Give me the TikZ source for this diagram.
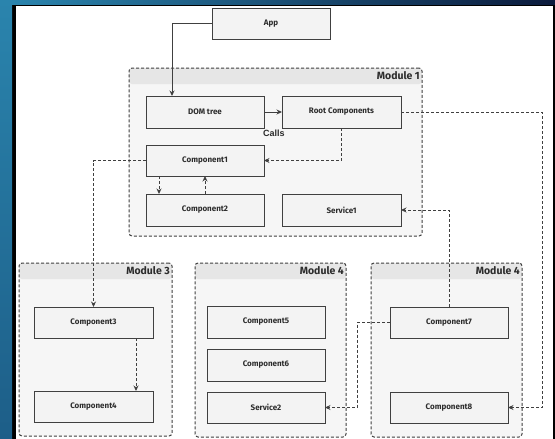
\documentclass[tikz,border=0pt]{standalone}
\usepackage{fontspec}
\setmainfont{Fira Sans}
\newfontfamily\callsfont{Liberation Sans}
\usetikzlibrary{arrows.meta}

\definecolor{edgeblue}{HTML}{2A84AD}
\definecolor{edgeblueDark}{HTML}{1D5E88}
\definecolor{edgenavy}{HTML}{0B1A3C}
\definecolor{modbg}{HTML}{F6F6F6}
\definecolor{modband}{HTML}{E6E6E6}
\definecolor{boxbg}{HTML}{F3F3F3}
\definecolor{ink}{HTML}{404040}
\definecolor{txt}{HTML}{2C2C2C}

\tikzset{
  box/.style={draw=ink, line width=1pt, fill=boxbg, minimum width=118pt,
    minimum height=31pt, inner sep=0pt, outer sep=0pt, text=txt,
    font=\bfseries\fontsize{8}{9}\selectfont},
  module/.style={draw=ink, line width=1pt, dash pattern=on 3pt off 2pt,
    rounded corners=3pt, fill=modbg, inner sep=0pt, outer sep=0pt,
    anchor=north west,
    path picture={\fill[modband] (path picture bounding box.north west)
      rectangle ([yshift=-16pt]path picture bounding box.north east);}},
  modlabel/.style={anchor=north east, inner sep=0pt, text=txt,
    font=\bfseries\fontsize{10.5}{12}\selectfont},
  link/.style={draw=ink, line width=0.9pt, dash pattern=on 3pt off 2pt,
    -{Stealth[length=5.5pt,width=5pt]}},
  solidlink/.style={draw=ink, line width=0.9pt, -{Stealth[length=5.5pt,width=5pt]}}
}

\begin{document}
\begin{tikzpicture}[x=1pt,y=-1pt]
\useasboundingbox (0,0) rectangle (555,439);

% window frame
\fill[black] (0,0) rectangle (555,439);
\shade[top color=edgeblue, bottom color=edgeblueDark] (0,0) rectangle (12,439);
\shade[left color=edgeblue, right color=edgenavy] (12,0) rectangle (555,4);
\fill[white] (16,6) rectangle (553,439);

% module containers
\node[module, minimum width=293pt, minimum height=168pt] (mod1) at (129,68) {};
\node[module, minimum width=153pt, minimum height=173pt] (mod3) at (19,263) {};
\node[module, minimum width=151pt, minimum height=174pt] (mod4a) at (195,263) {};
\node[module, minimum width=151pt, minimum height=174pt] (mod4b) at (371,263) {};

\node[modlabel] (mod1lbl) at ([xshift=-2pt,yshift=-3.5pt]mod1.north east) {Module 1};
\node[modlabel] (mod3lbl) at ([xshift=-2pt,yshift=-3.5pt]mod3.north east) {Module 3};
\node[modlabel] (mod4albl) at ([xshift=-2pt,yshift=-3.5pt]mod4a.north east) {Module 4};
\node[modlabel] (mod4blbl) at ([xshift=-2pt,yshift=-3.5pt]mod4b.north east) {Module 4};

% components and services
\node[box] (app)  at (271,23.5)   {App};
\node[box, minimum height=32pt] (dom)  at (205,112)   {DOM tree};
\node[box, minimum height=32pt, minimum width=119pt] (root) at (341.5,112) {Root Components};
\node[box] (c1)   at (205,160.5)   {Component1};
\node[box, minimum height=32pt] (c2)   at (205,210)   {Component2};
\node[box, minimum height=32pt, minimum width=119pt] (s1)   at (341.5,210) {Service1};
\node[box, minimum width=119pt] (c3)   at (93.5,322.5)  {Component3};
\node[box, minimum width=119pt] (c4)   at (93.5,406.5)  {Component4};
\node[box, minimum height=32pt] (c5)   at (266,322)   {Component5};
\node[box, minimum height=32pt] (c6)   at (266,365)   {Component6};
\node[box] (s2)   at (266,407.5)   {Service2};
\node[box] (c7)   at (449,322.5)   {Component7};
\node[box] (c8)   at (449,407.5)   {Component8};

\node[anchor=north west, inner sep=0pt, text=txt,
  font=\callsfont\bfseries\fontsize{9}{10}\selectfont] (calls) at (263,129.5) {Calls};

% connectors
\draw[solidlink] (app.west) -| ([xshift=-33pt]dom.north);
\draw[solidlink] (dom.east) -- (root.west);
\draw[link] (root.south) |- (c1.east);
\draw[link] ([xshift=-46pt]c1.south) -- ([xshift=-46pt]c2.north);
\draw[link] (c2.north) -- (c1.south);
\draw[link] (c1.west) -| (c3.north);
\draw[link] ([xshift=42.5pt]c3.south) -- ([xshift=42.5pt]c4.north);
\draw[link] (root.east) -- ++(141,0) |- (c8.east);
\draw[link] (c7.north) |- (s1.east);
\draw[link] (c7.west) -- ++(-33,0) |- (s2.east);
\end{tikzpicture}
\end{document}
